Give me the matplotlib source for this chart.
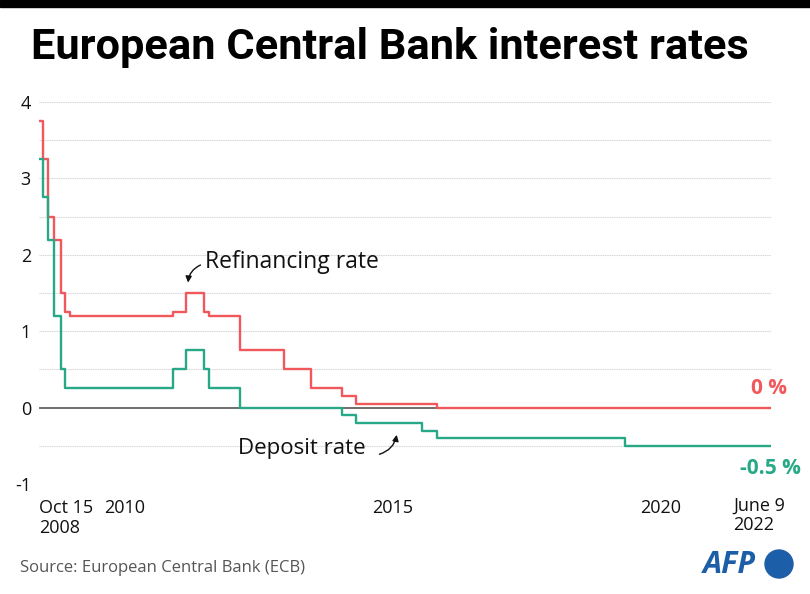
import matplotlib.pyplot as plt
import matplotlib.dates as mdates
from matplotlib.patches import Ellipse
import pandas as pd

# ECB rate changes
dates = ["2008-10-15", "2008-11-12", "2008-12-10", "2009-01-21", "2009-03-11",
         "2009-04-08", "2009-05-13", "2011-04-13", "2011-07-13", "2011-11-09",
         "2011-12-14", "2012-07-11", "2013-05-08", "2013-11-13", "2014-06-11",
         "2014-09-10", "2015-12-09", "2016-03-16", "2019-09-18", "2022-06-09"]
refi_rate = [3.75, 3.25, 2.5, 2.2, 1.5, 1.25, 1.2, 1.25, 1.5, 1.25,
             1.2, 0.75, 0.5, 0.25, 0.15, 0.05, 0.05, 0.0, 0.0, 0.0]
deposit_rate = [3.25, 2.75, 2.2, 1.2, 0.5, 0.25, 0.25, 0.5, 0.75, 0.5,
                0.25, 0.0, 0.0, 0.0, -0.1, -0.2, -0.3, -0.4, -0.5, -0.5]

tick_dates = ["2008-10-15", "2010-01-01", "2015-01-01", "2020-01-01"]
tick_labels = ["Oct 15\n2008", "2010", "2015", "2020"]

RED = "#f0585c"
GREEN = "#27a987"
AFP_BLUE = "#1d5ea8"
W, H = 810, 594

plt.rcParams['font.family'] = ['Open Sans', 'DejaVu Sans']

x = pd.to_datetime(dates)

fig = plt.figure(figsize=(W / 100, H / 100), dpi=100)
ax = fig.add_axes([39.3 / W, 1 - 484 / H, (770.7 - 39.3) / W, (484 - 102) / H])

# top black bar
fig.patches.append(plt.Rectangle((0, 1 - 7 / H), 1, 7 / H, transform=fig.transFigure,
                                 color="black", zorder=0))

# grid
for yv in [-1, -0.5, 0.5, 1, 1.5, 2, 2.5, 3, 3.5, 4]:
    ax.axhline(yv, color="#d4d4d4", lw=0.8, ls=(0, (1, 0.6)), zorder=1)
ax.axhline(0, color="#555555", lw=1.2, zorder=2)

ax.step(x, refi_rate, where="post", color=RED, lw=1.7, zorder=3)
ax.step(x, deposit_rate, where="post", color=GREEN, lw=1.7, zorder=3)

ax.set_xlim(pd.Timestamp("2008-10-15"), pd.Timestamp("2022-06-09"))
ax.set_ylim(-1, 4)
ax.set_yticks([-1, 0, 1, 2, 3, 4])
ax.set_yticklabels(["-1", "0", "1", "2", "3", "4"])
ax.set_xticks(pd.to_datetime(tick_dates))
ax.set_xticklabels(tick_labels, ha="left", linespacing=1.1)
ax.tick_params(axis="both", length=0, labelsize=13, colors="#111111")
ax.tick_params(axis="x", pad=11)
ax.tick_params(axis="y", pad=6)
for s in ax.spines.values():
    s.set_visible(False)

fig.text(733 / W, 1 - 497 / H, "June 9\n2022", ha="left", va="top", fontsize=13,
         color="#111111", linespacing=1.1)

# annotations
ax.text(mdates.date2num(pd.Timestamp("2011-11-20")), 1.91, "Refinancing rate",
        fontsize=16.5, ha="left", va="center", color="#111111")
ax.annotate("", xy=(pd.Timestamp("2011-07-25"), 1.6),
            xytext=(pd.Timestamp("2011-11-05"), 1.88),
            arrowprops=dict(arrowstyle="-|>", connectionstyle="arc3,rad=0.35",
                            color="#111111", lw=1, mutation_scale=9))
ax.text(pd.Timestamp("2013-09-10"), -0.53, "Deposit rate",
        fontsize=16, ha="center", va="center", color="#111111")
ax.annotate("", xy=(pd.Timestamp("2015-06-20"), -0.32),
            xytext=(pd.Timestamp("2015-02-01"), -0.62),
            arrowprops=dict(arrowstyle="-|>", connectionstyle="arc3,rad=0.35",
                            color="#111111", lw=1, mutation_scale=9))

fig.text(787 / W, 1 - 388 / H, "0 %", ha="right", va="center", fontsize=15,
         fontweight="bold", color=RED)
fig.text(801 / W, 1 - 469 / H, "-0.5 %", ha="right", va="center", fontsize=15,
         fontweight="bold", color=GREEN)

# title, shrunk to fit the reference width (~718 px)
title = fig.text(31 / W, 1 - 27 / H, "European Central Bank interest rates", ha="left",
                 va="top", fontsize=32, fontweight="bold", color="black",
                 family=["Roboto", "Open Sans"])
r = fig.canvas.get_renderer()
tw = title.get_window_extent(r).width
title.set_fontsize(32 * 718 / tw)

fig.text(20 / W, 1 - 568 / H, "Source: European Central Bank (ECB)", ha="left",
         va="center", fontsize=12, color="#555555")

# AFP logo
fig.text(703 / W, 1 - 565 / H, "AFP", ha="left", va="center", fontsize=22,
         fontweight="bold", fontstyle="italic", color=AFP_BLUE)
fig.patches.append(Ellipse((779 / W, 1 - 564 / H), 28 / W, 28 / H,
                           transform=fig.transFigure, color=AFP_BLUE))

fig.savefig("out.png", dpi=100)
